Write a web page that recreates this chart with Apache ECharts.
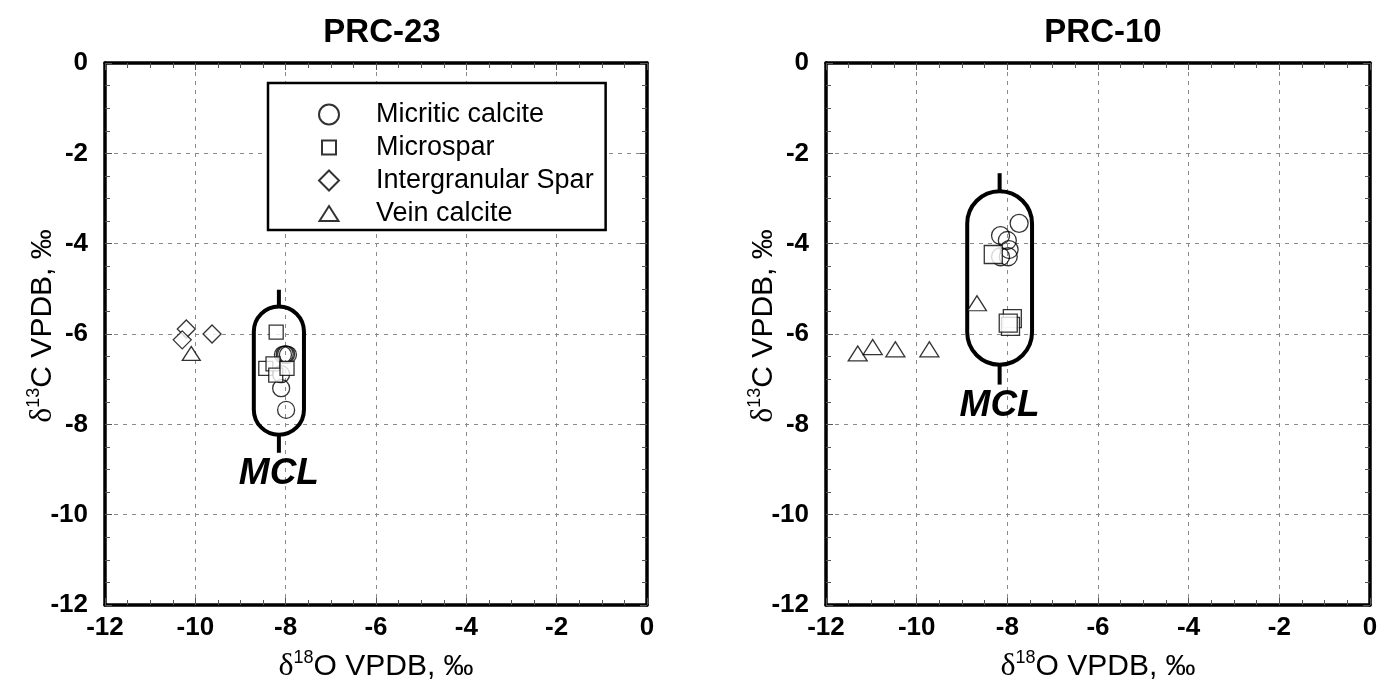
<!DOCTYPE html>
<html>
<head>
<meta charset="utf-8">
<script src="https://cdn.jsdelivr.net/npm/echarts@6/dist/echarts.min.js"></script>
<style>
  html, body { margin: 0; padding: 0; background: #fff; }
  #chart { width: 1378px; height: 686px; }
</style>
</head>
<body>
<div id="chart"></div>
<script>
// Stable isotope data, [δ18O, δ13C] in ‰ VPDB
// Sample PRC-23
const micritic23 = [[-8.06, -6.46], [-8.02, -6.45], [-7.99, -6.45], [-7.95, -6.46], [-8.10, -6.89], [-8.10, -7.20], [-7.99, -7.68]];
const microspar23 = [[-8.21, -5.96], [-8.44, -6.76], [-8.28, -6.66], [-8.22, -6.91], [-7.97, -6.76]];
const spar23 = [[-10.20, -5.89], [-10.29, -6.13], [-9.63, -6.00]];
const vein23 = [[-10.09, -6.43]];
// Sample PRC-10
const micritic10 = [[-7.74, -3.55], [-8.15, -3.82], [-8.00, -3.93], [-7.96, -4.13], [-8.15, -4.29], [-7.98, -4.29]];
const microspar10 = [[-8.31, -4.24], [-7.89, -5.66], [-7.93, -5.83], [-7.98, -5.76]];
const vein10 = [[-8.67, -5.32], [-11.30, -6.43], [-10.97, -6.29], [-10.47, -6.34], [-9.72, -6.34]];

// Marine calcite envelope (MCL): [δ18O centre, δ13C top, δ13C bottom, δ18O width, whisker top, whisker bottom]
const mcl23 = [[-8.15, -5.39, -8.23, 1.11, -5.02, -8.63]];
const mcl10 = [[-8.17, -2.84, -6.68, 1.43, -2.44, -7.12]];

const sampleTitles = ['PRC-23', 'PRC-10'];
const phaseNames = ['Micritic calcite', 'Microspar', 'Intergranular Spar', 'Vein calcite'];
const axisMin = -12, axisMax = 0, axisStep = 2;

const FONT = '"Liberation Sans", Arial, Helvetica, sans-serif';
const SERIF = '"Liberation Serif", "Times New Roman", serif';

const chart = echarts.init(document.getElementById('chart'), null, { renderer: 'canvas' });

const grids = [
  { left: 105, top: 63, width: 542, height: 542, outerBoundsMode: 'none', containLabel: false },
  { left: 826, top: 63, width: 544, height: 542, outerBoundsMode: 'none', containLabel: false }
];

const frameLine = { show: true, onZero: false, lineStyle: { color: '#000', width: 3.5 } };
const tickIn = { show: true, inside: true, length: 7, lineStyle: { color: '#555', width: 1 } };
const minorIn = { show: true, splitNumber: 4, length: 5, lineStyle: { color: '#555', width: 1 } };
const gridDash = { show: true, lineStyle: { color: '#8a8a8a', width: 1, type: [4, 5] } };

const xName = '{d|δ}{s|18}{n|O VPDB, ‰}';
const yName = '{d|δ}{s|13}{n|C VPDB, ‰}';
const nameRich = {
  d: { fontFamily: SERIF, fontSize: 32, color: '#000', lineHeight: 36 },
  s: { fontFamily: FONT, fontSize: 18, color: '#000', verticalAlign: 'top', lineHeight: 36 },
  n: { fontFamily: FONT, fontSize: 30, color: '#000', lineHeight: 36 }
};

function valueAxis(gridIndex, position, withLabels, extra) {
  return Object.assign({
    type: 'value', gridIndex, position,
    min: axisMin, max: axisMax, interval: axisStep,
    axisLine: frameLine,
    axisTick: tickIn,
    minorTick: minorIn,
    splitLine: withLabels ? gridDash : { show: false },
    axisLabel: withLabels
      ? { show: true, color: '#000', fontFamily: FONT, fontWeight: 'bold', fontSize: 26, margin: position === 'bottom' ? 10 : 17 }
      : { show: false }
  }, extra || {});
}

const xAxes = [], yAxes = [];
[0, 1].forEach(g => {
  xAxes.push(valueAxis(g, 'bottom', true, {
    name: xName, nameLocation: 'middle', nameGap: 44, nameMoveOverlap: false,
    nameTextStyle: { rich: nameRich }
  }));
  xAxes.push(valueAxis(g, 'top', false));
  yAxes.push(valueAxis(g, 'left', true, {
    name: yName, nameLocation: 'middle', nameGap: 44, nameRotate: 90, nameMoveOverlap: false,
    nameTextStyle: { rich: nameRich, padding: [0, 0, 0, 16] }
  }));
  yAxes.push(valueAxis(g, 'right', false));
});

const openMark = { color: '#fff', borderColor: '#000', borderWidth: 1.3 };
const hollowMark = { color: 'rgba(255,255,255,0)', borderColor: '#000', borderWidth: 1.3 };

function scatter(name, data, g, symbol, size, style) {
  return {
    type: 'scatter', name, data,
    xAxisIndex: g * 2, yAxisIndex: g * 2,
    symbol, symbolSize: size,
    itemStyle: style,
    emphasis: { disabled: true },
    z: 3
  };
}

// Capsule outline with whiskers plus the MCL tag, built from the envelope values
function renderEnvelope(params, api) {
  const cx = api.value(0), yTop = api.value(1), yBot = api.value(2);
  const w = api.value(3), sTop = api.value(4), sBot = api.value(5);
  const pTop = api.coord([cx, yTop]);
  const pBot = api.coord([cx, yBot]);
  const pS1 = api.coord([cx, sTop]);
  const pS2 = api.coord([cx, sBot]);
  const wPx = api.size([w, 0])[0];
  const stroke = { stroke: '#000', lineWidth: 4, fill: null };
  return {
    type: 'group',
    children: [
      { type: 'line', shape: { x1: pS1[0], y1: pS1[1], x2: pTop[0], y2: pTop[1] }, style: stroke },
      { type: 'line', shape: { x1: pBot[0], y1: pBot[1], x2: pS2[0], y2: pS2[1] }, style: stroke },
      {
        type: 'rect',
        shape: { x: pTop[0] - wPx / 2, y: pTop[1], width: wPx, height: pBot[1] - pTop[1], r: wPx / 2 },
        style: { stroke: '#000', lineWidth: 4, fill: 'none' }
      },
      {
        type: 'text', x: pS2[0], y: pS2[1] + 3,
        style: {
          text: 'MCL', fill: '#000',
          font: 'italic bold 37px ' + FONT,
          align: 'center', verticalAlign: 'top',
          textAlign: 'center', textVerticalAlign: 'top'
        }
      }
    ]
  };
}

function envelope(data, g) {
  return {
    type: 'custom', data,
    xAxisIndex: g * 2, yAxisIndex: g * 2,
    renderItem: renderEnvelope,
    encode: { x: 0, y: [1, 2] },
    silent: true, z: 1
  };
}

const series = [
  envelope(mcl23, 0),
  envelope(mcl10, 1),
  scatter(phaseNames[0], micritic23, 0, 'circle', 17, hollowMark),
  scatter(phaseNames[1], microspar23, 0, 'rect', 14, openMark),
  scatter(phaseNames[2], spar23, 0, 'diamond', [18, 18], openMark),
  scatter(phaseNames[3], vein23, 0, 'triangle', [18, 14], openMark),
  scatter(phaseNames[0], micritic10, 1, 'circle', 18, hollowMark),
  scatter(phaseNames[1], microspar10, 1, 'rect', 18, openMark),
  scatter(phaseNames[3], vein10, 1, 'triangle', [19, 15], openMark)
];

// Legend glyphs: the square and triangle sit inside a 20×20 cell at their own size
const legendIcons = [
  'circle',
  'path://M0,0M20,20M3,3L17,3L17,17L3,17Z',
  'diamond',
  'path://M0,0M20,20M10,2.5L19.5,17.5L0.5,17.5Z'
];

chart.setOption({
  backgroundColor: '#fff',
  animation: false,
  title: sampleTitles.map((t, i) => ({
    text: t,
    left: i === 0 ? 377 : 1098,
    top: 11,
    textAlign: 'center',
    textStyle: { fontFamily: FONT, fontWeight: 'bold', fontSize: 33, color: '#000' }
  })),
  legend: {
    data: phaseNames.map((n, i) => ({ name: n, icon: legendIcons[i] })),
    orient: 'vertical',
    left: 268, top: 83,
    padding: [18, 12, 3, 50],
    itemGap: 6,
    itemWidth: 20, itemHeight: 20,
    symbolKeepAspect: true,
    borderColor: '#000', borderWidth: 2.5, borderRadius: 0,
    backgroundColor: '#fff',
    selectedMode: false,
    textStyle: { fontFamily: FONT, fontSize: 27, color: '#000', lineHeight: 27, padding: [0, 0, 0, 32] }
  },
  grid: grids,
  xAxis: xAxes,
  yAxis: yAxes,
  series
});
</script>
</body>
</html>
